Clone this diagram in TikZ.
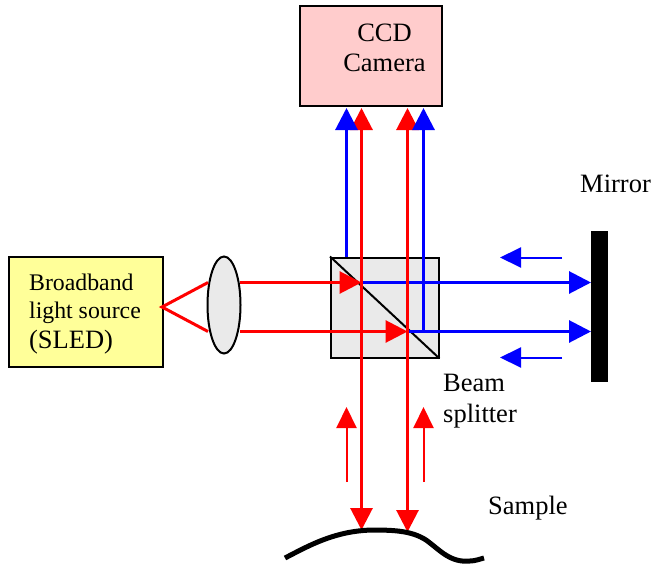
\documentclass[tikz,border=0pt]{standalone}
\usepackage{fontspec}
\setmainfont{Liberation Serif}
\usetikzlibrary{arrows.meta,shapes.geometric}
\definecolor{pinkbox}{HTML}{FFCCCC}
\definecolor{yellowbox}{HTML}{FFFF99}
\definecolor{greyfill}{HTML}{EAEAEA}
\tikzset{
  x=1pt,y=-1pt,
  boxnode/.style={draw=black,line width=2pt,inner sep=0pt,anchor=north west},
  label/.style={inner sep=0pt,anchor=base west,font=\fontsize{26.5}{30}\selectfont},
  bigtip/.tip={Triangle[length=22pt,width=22pt]},
  smalltip/.tip={Triangle[length=21pt,width=20pt]},
  beamred/.style={draw=red,line width=3pt},
  beamblue/.style={draw=blue,line width=3pt},
  bigred/.style={beamred,-{bigtip[red]}},
  bigblue/.style={beamblue,-{bigtip[blue]}},
  hintred/.style={draw=red,line width=2pt,-{smalltip[red]}},
  hintblue/.style={draw=blue,line width=2pt,-{smalltip[blue]}},
}
\begin{document}
\begin{tikzpicture}
\useasboundingbox (0,0) rectangle (652,567);
% boxes
\node[boxnode,fill=pinkbox,minimum width=141.5pt,minimum height=100pt] (ccd) at (299,5) {};
\node[inner sep=0pt,align=center,font=\fontsize{26.5}{30.5}\selectfont] (ccdtext) at (384.5,48) {CCD\\Camera};
\node[boxnode,fill=yellowbox,minimum width=154.5pt,minimum height=110pt] (src) at (7.5,256) {};
\node[inner sep=0pt,align=left,font=\fontsize{23.8}{28}\selectfont] (srctext) at (85,314) {Broadband\\light source\\[2pt]{\fontsize{26.5}{30}\selectfont (SLED)}};
\node[draw=black,line width=2pt,fill=greyfill,ellipse,minimum width=33pt,minimum height=97pt,inner sep=0pt] (lens) at (224,305) {};
\node[draw=black,line width=2pt,fill=greyfill,minimum width=107.5pt,minimum height=100pt,inner sep=0pt,anchor=north west] (bs) at (330,256.5) {};
\node[fill=black,minimum width=17pt,minimum height=151pt,inner sep=0pt,anchor=north west] (mirror) at (591,231) {};
% labels
\node[label] (lmirror) at (580,192) {Mirror};
\node[label] (lbeam) at (443,391) {Beam};
\node[label] (lsplit) at (443,422) {splitter};
\node[label] (lsample) at (488,514) {Sample};
% coordinates
\coordinate (apex) at (162,307);
\coordinate (lensT) at (208,282.5);
\coordinate (lensB) at (208,331.5);
\coordinate (lensTo) at (240,282.5);
\coordinate (lensBo) at (240,331.5);
\coordinate (hitT) at (361.5,282.5);
\coordinate (hitB) at (407.5,331.5);
\coordinate (mirT) at (591,282.5);
\coordinate (mirB) at (591,331.5);
\coordinate (camR1) at (361.5,108);
\coordinate (camR2) at (407.5,108);
\coordinate (camB1) at (346.5,108);
\coordinate (camB2) at (423.5,108);
\coordinate (smpR1) at (361.5,530);
\coordinate (smpR2) at (407.5,532);
\coordinate (bsB1) at (346.5,257);
\coordinate (bsB2) at (423.5,331.5);
% beam splitter diagonal
\draw[black,line width=2pt] (bs.north west) -- (bs.south east);
% fan from the source
\draw[beamred] (lensT) -- (apex) -- (lensB);
% blue horizontal
\draw[bigblue] (hitT) -- (mirT);
\draw[bigblue] (hitB) -- (mirB);
% red input
\draw[bigred] (lensTo) -- (hitT);
\draw[bigred] (lensBo) -- (hitB);
% red vertical, both ways
\draw[beamred,{bigtip[red]}-{bigtip[red]}] (camR1) -- (smpR1);
\draw[beamred,{bigtip[red]}-{bigtip[red]}] (camR2) -- (smpR2);
% blue vertical
\draw[bigblue] (bsB1) -- (camB1);
\draw[bigblue] (bsB2) -- (camB2);
% direction hints
\coordinate (h1a) at (562,257.5); \coordinate (h1b) at (500,257.5);
\coordinate (h2a) at (562,357.5); \coordinate (h2b) at (500,357.5);
\coordinate (h3a) at (346.5,482); \coordinate (h3b) at (346.5,407);
\coordinate (h4a) at (423.5,482); \coordinate (h4b) at (423.5,407);
\draw[hintblue] (h1a) -- (h1b);
\draw[hintblue] (h2a) -- (h2b);
\draw[hintred] (h3a) -- (h3b);
\draw[hintred] (h4a) -- (h4b);
% sample surface
\draw[black,line width=5pt] (285,558) .. controls (310,545) and (335,531) .. (372,530)
  .. controls (395,530) and (412,531) .. (426,540)
  .. controls (440,550) and (450,563) .. (470,561)
  .. controls (475,561) and (480,559) .. (484,558);
\end{tikzpicture}
\end{document}
